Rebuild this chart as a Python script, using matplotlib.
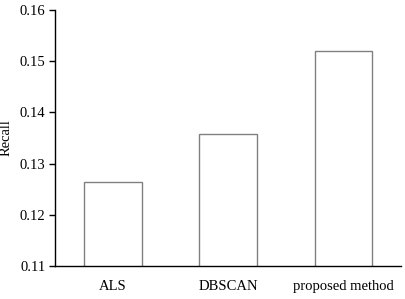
import matplotlib
matplotlib.use("Agg")
import matplotlib.pyplot as plt

methods = ["ALS", "DBSCAN", "proposed method"]
recall = [0.1265, 0.1357, 0.1519]
y_ticks = [0.11, 0.12, 0.13, 0.14, 0.15, 0.16]

plt.rcParams['font.family'] = ['Liberation Serif', 'DejaVu Serif']
plt.rcParams['font.size'] = 10.5

fig = plt.figure(figsize=(4.06, 2.99), dpi=100)
ax = fig.add_axes([0.1355, 0.110, 0.8525, 0.8566])

x = range(len(methods))
ax.bar(x, recall, width=0.5, color='white', edgecolor='#808080', linewidth=1.0)

ax.set_xlim(-0.5, 2.5)
ax.set_ylim(0.11, 0.16)
ax.set_yticks(y_ticks)
ax.set_yticklabels([f"{t:.2f}" for t in y_ticks])
ax.set_xticks(list(x))
ax.set_xticklabels(methods)
ax.tick_params(axis='x', length=0, pad=10)
ax.tick_params(axis='y', direction='out', length=4, width=1, pad=3)
ax.set_ylabel("Recall", labelpad=5)

for side in ['top', 'right']:
    ax.spines[side].set_visible(False)
for side in ['left', 'bottom']:
    ax.spines[side].set_linewidth(1.0)
    ax.spines[side].set_color('black')

fig.savefig("out.png", dpi=100)
